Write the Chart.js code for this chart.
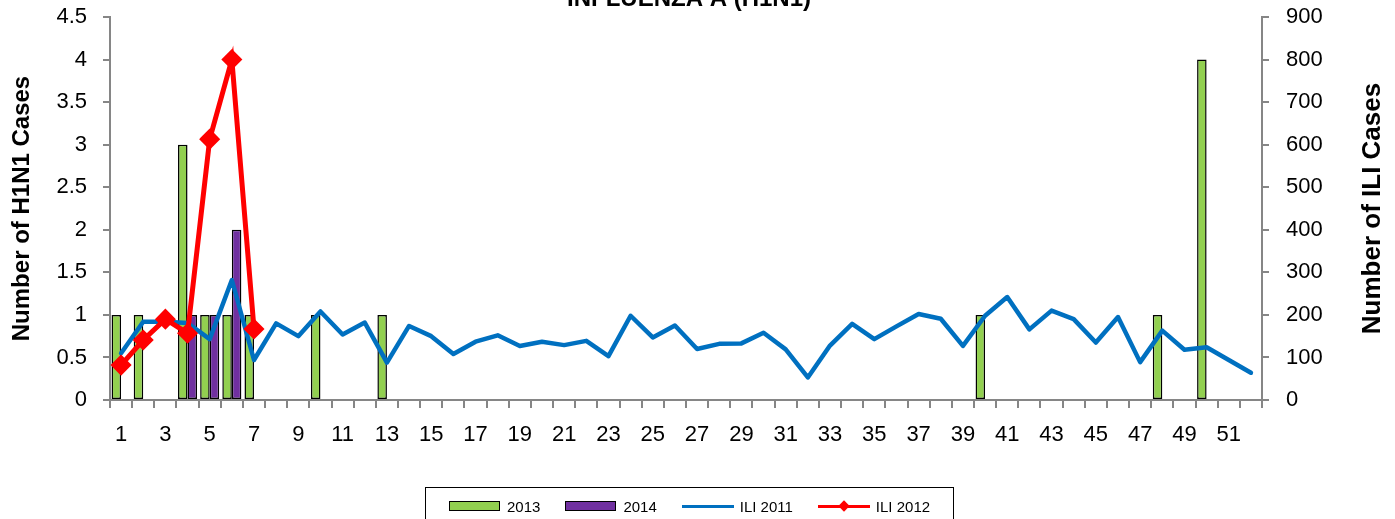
<!DOCTYPE html>
<html>
<head>
<meta charset="utf-8">
<script src="https://cdn.jsdelivr.net/npm/chart.js@4.4.1/dist/chart.umd.min.js"></script>
<style>
    html, body { margin: 0; padding: 0; background: #fff; overflow: hidden; }
    #wrap { position: relative; width: 1395px; height: 519px; overflow: hidden; }
    #legend {
        position: absolute; left: 425px; top: 487px; width: 529px; height: 40px;
        border: 1px solid #000; box-sizing: border-box; display: flex; align-items: flex-start;
        padding: 10px 0 0 23px; font: 15px "Liberation Sans", Arial, sans-serif; color: #000;
        white-space: nowrap;
    }
    .item { display: flex; align-items: center; margin-right: 25px; height: 16px; white-space: nowrap; flex: none; }
    .sw { width: 52px; margin-right: 6px; position: relative; flex: none; }
    .box { height: 8px; border: 1.5px solid #000; box-sizing: content-box; width: 49px; }
    .ln { height: 3px; }
    .dm { position: absolute; left: 22px; top: -3px; width: 8px; height: 8px; transform: rotate(45deg); }
</style>
</head>
<body>
<div id="wrap">
    <canvas id="chart" width="1395" height="519"></canvas>
    <div id="legend"></div>
</div>
<script>
    'use strict';

    var weeks = ['1','2','3','4','5','6','7','8','9','10','11','12','13','14','15','16','17','18','19','20',
        '21','22','23','24','25','26','27','28','29','30','31','32','33','34','35','36','37','38','39','40',
        '41','42','43','44','45','46','47','48','49','50','51','52'];

    // H1N1 cases per week (left axis)
    var h1n1_2013 = [1, 1, null, 3, 1, 1, 1, null, null, 1, null, null, 1, null, null, null, null, null, null, null,
        null, null, null, null, null, null, null, null, null, null, null, null, null, null, null, null, null, null, null, 1,
        null, null, null, null, null, null, null, 1, null, 4, null, null];
    var h1n1_2014 = [null, null, null, 1, 1, 2];

    // ILI cases per week (right axis)
    var ili_2011 = [110, 184, 184, 181, 143, 282, 94, 180, 150, 208, 154, 182, 88, 174, 150, 108, 137, 152, 127, 137,
        129, 139, 103, 198, 147, 175, 120, 132, 133, 158, 119, 53, 128, 179, 143, 173, 202, 191, 127, 198,
        242, 166, 210, 190, 135, 195, 89, 163, 118, 124, 94, 64];
    var ili_2012 = [82, 141, 190, 157, 613, 800, 167];

    var leftTicks = [0, 0.5, 1, 1.5, 2, 2.5, 3, 3.5, 4, 4.5];
    var rightTicks = [0, 100, 200, 300, 400, 500, 600, 700, 800, 900];

    var FONT = '"Liberation Sans", Arial, sans-serif';
    var axisGray = '#868686';

    // chart title (cut by the top edge, as in the reference) and the right axis title read bottom-to-top
    var textPlugin = {
        id: 'texts',
        afterDraw: function (chart) {
            var ctx = chart.ctx, area = chart.chartArea;
            ctx.save();
            ctx.font = 'bold 24px ' + FONT;
            ctx.fillStyle = '#000';
            ctx.textAlign = 'center';
            ctx.textBaseline = 'alphabetic';
            ctx.fillText('INFLUENZA A (H1N1)', 689, 6);
            ctx.font = 'bold 26px ' + FONT;
            ctx.translate(1373, (area.top + area.bottom) / 2);
            ctx.rotate(-Math.PI / 2);
            ctx.textBaseline = 'middle';
            ctx.fillText('Number of ILI Cases', 0, 0);
            ctx.restore();
        }
    };

    // fixed axis box sizes so the plot area sits where the reference has it
    function fixY(width) {
        return function (s) {
            s.width = width;
            s.paddingTop = 17;
            s.paddingBottom = 0;
        };
    }

    var datasets = [
        { type: 'line', label: 'ILI 2012', data: ili_2012, yAxisID: 'y1', order: 0,
          borderColor: '#FF0000', backgroundColor: '#FF0000', borderWidth: 5,
          pointStyle: 'rectRot', pointRadius: 7, pointHoverRadius: 7, tension: 0 },
        { type: 'line', label: 'ILI 2011', data: ili_2011, yAxisID: 'y1', order: 1,
          borderColor: '#0070C0', backgroundColor: '#0070C0', borderWidth: 4.5,
          pointRadius: 0, tension: 0, borderCapStyle: 'round', borderJoinStyle: 'round' },
        { type: 'bar', label: '2013', data: h1n1_2013, yAxisID: 'y', order: 2,
          backgroundColor: '#92D050', borderColor: '#000', borderWidth: 1.5, borderSkipped: false },
        { type: 'bar', label: '2014', data: h1n1_2014, yAxisID: 'y', order: 3,
          backgroundColor: '#7030A0', borderColor: '#000', borderWidth: 1.5, borderSkipped: false }
    ];

    var chart = new Chart(document.getElementById('chart'), {
        type: 'bar',
        data: { labels: weeks, datasets: datasets },
        plugins: [textPlugin],
        options: {
            responsive: false,
            animation: false,
            layout: { padding: 0 },
            datasets: { bar: { categoryPercentage: 0.86, barPercentage: 1 } },
            plugins: { legend: { display: false }, tooltip: { enabled: false } },
            scales: {
                x: {
                    grid: { offset: true, drawOnChartArea: false, drawTicks: true, tickLength: 8, color: axisGray, lineWidth: 2 },
                    border: { color: axisGray, width: 2 },
                    ticks: {
                        autoSkip: false, maxRotation: 0, padding: 14, color: '#000',
                        font: { family: FONT, size: 22 },
                        callback: function (v, i) { return i % 2 === 0 ? weeks[i] : ''; }
                    },
                    afterFit: function (s) { s.height = 119; s.paddingLeft = 0; s.paddingRight = 0; }
                },
                y: {
                    position: 'left', min: 0, max: 4.5,
                    afterBuildTicks: function (s) { s.ticks = leftTicks.map(function (v) { return { value: v }; }); },
                    grid: { drawOnChartArea: false, tickLength: 7, color: axisGray, lineWidth: 2 },
                    border: { color: axisGray, width: 2 },
                    ticks: { padding: 16, color: '#000', font: { family: FONT, size: 22 },
                        callback: function (v) { return String(v); } },
                    title: { display: true, text: 'Number of H1N1 Cases', color: '#000',
                        font: { family: FONT, size: 24, weight: 'bold' }, padding: { top: 8, bottom: 0 } },
                    afterFit: fixY(110)
                },
                y1: {
                    position: 'right', min: 0, max: 900,
                    afterBuildTicks: function (s) { s.ticks = rightTicks.map(function (v) { return { value: v }; }); },
                    grid: { drawOnChartArea: false, tickLength: 7, color: axisGray, lineWidth: 2 },
                    border: { color: axisGray, width: 2 },
                    ticks: { padding: 17, color: '#000', font: { family: FONT, size: 22 },
                        callback: function (v) { return String(v); } },
                    afterFit: fixY(133)
                }
            }
        }
    });

    // legend built from the chart datasets, in the reference's order
    var legendOrder = ['2013', '2014', 'ILI 2011', 'ILI 2012'];
    var legend = document.getElementById('legend');
    legendOrder.forEach(function (name) {
        var ds = chart.data.datasets.filter(function (d) { return d.label === name; })[0];
        var item = document.createElement('div');
        item.className = 'item';
        var sw = document.createElement('div');
        sw.className = 'sw';
        if (ds.type === 'bar') {
            var b = document.createElement('div');
            b.className = 'box';
            b.style.background = ds.backgroundColor;
            sw.appendChild(b);
        } else {
            var l = document.createElement('div');
            l.className = 'ln';
            l.style.background = ds.borderColor;
            sw.appendChild(l);
            if (ds.pointStyle === 'rectRot') {
                var d = document.createElement('div');
                d.className = 'dm';
                d.style.background = ds.borderColor;
                sw.appendChild(d);
            }
        }
        var t = document.createElement('span');
        t.textContent = name;
        item.appendChild(sw);
        item.appendChild(t);
        legend.appendChild(item);
    });
</script>
</body>
</html>
